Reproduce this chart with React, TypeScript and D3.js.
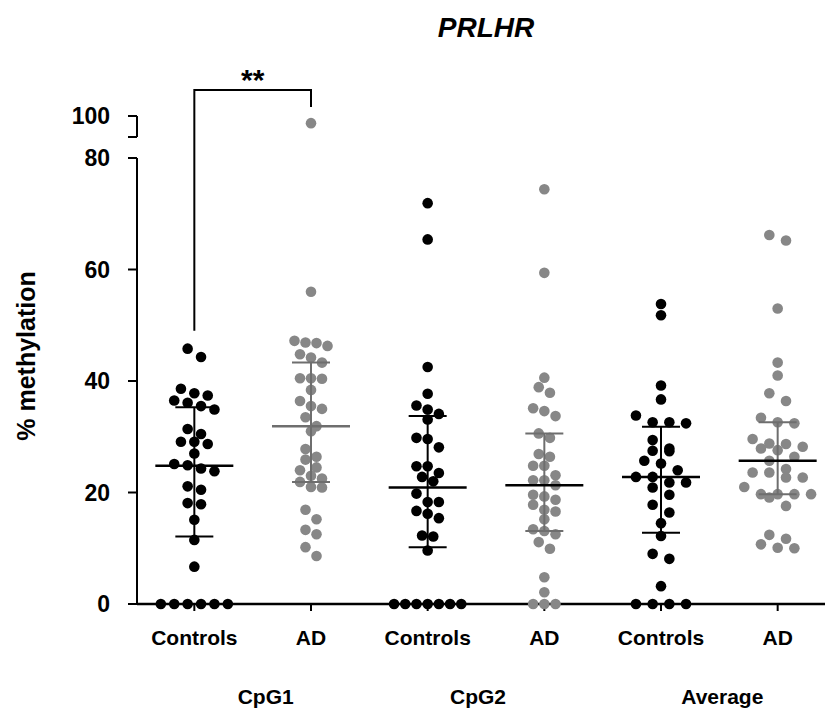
import * as d3 from 'd3';

// values (percent methylation)
const categories = ['Controls', 'AD', 'Controls', 'AD', 'Controls', 'AD'];
const regions = ['CpG1', 'CpG2', 'Average'];

const ctrlCpG1 = [45.8, 44.3, 38.6, 37.8, 37.4, 36.5, 36.1, 35.5, 34.9, 31.4, 30.5, 29.1, 29.1, 28.7, 27.0, 25.1, 24.9, 24.3, 23.8, 21.1, 20.5, 18.1, 17.9, 15.1, 11.5, 6.7, 0, 0, 0, 0, 0, 0];
const adCpG1 = [98.3, 56.0, 47.2, 46.9, 46.8, 46.3, 44.8, 44.2, 43.3, 40.5, 40.5, 40.4, 38.4, 36.4, 35.5, 35.0, 33.5, 31.9, 31.0, 27.8, 26.4, 25.9, 24.5, 24.0, 23.0, 22.5, 21.9, 21.0, 20.9, 16.9, 15.2, 13.3, 12.5, 10.2, 8.6];
const ctrlCpG2 = [71.9, 65.4, 42.5, 37.7, 35.6, 34.9, 34.1, 33.1, 29.8, 29.6, 28.1, 24.7, 24.7, 23.5, 22.8, 22.0, 19.8, 18.3, 18.3, 16.7, 16.2, 15.4, 12.3, 12.1, 9.6, 0, 0, 0, 0, 0, 0, 0];
const adCpG2 = [74.4, 59.4, 40.6, 38.9, 37.9, 35.1, 34.6, 33.7, 30.6, 29.8, 26.9, 26.4, 24.8, 24.8, 23.1, 22.2, 22.2, 21.3, 19.6, 19.3, 18.7, 17.8, 16.9, 16.6, 15.2, 13.4, 13.1, 12.5, 11.1, 9.9, 4.8, 2.1, 0, 0, 0];
const ctrlAvg = [53.8, 51.8, 39.2, 36.7, 33.8, 32.6, 32.6, 32.4, 29.4, 27.9, 27.5, 27.4, 25.7, 25.2, 24.0, 22.8, 22.8, 21.8, 21.8, 20.9, 19.6, 17.8, 16.4, 14.5, 12.2, 9.0, 8.1, 3.2, 0, 0, 0, 0];
const adAvg = [66.2, 65.2, 53.0, 43.3, 41.0, 37.8, 36.4, 33.4, 32.6, 32.4, 29.6, 28.8, 28.7, 28.2, 27.9, 27.6, 26.4, 25.7, 24.2, 23.6, 23.6, 22.7, 22.7, 21.0, 19.7, 19.7, 19.7, 19.7, 19.1, 17.6, 12.4, 11.7, 10.7, 10.1, 10.0];

const series = [ctrlCpG1, adCpG1, ctrlCpG2, adCpG2, ctrlAvg, adAvg];
const means = [24.8, 31.9, 20.9, 21.3, 22.8, 25.7];
const sdLow = [12.1, 21.9, 10.2, 13.1, 12.8, 19.7];
const sdHigh = [35.3, 43.3, 33.7, 30.6, 31.8, 32.6];

const yTicks = [0, 20, 40, 60, 80];

// layout
const W = 825;
const H = 708;
const axisX = 137;
const baseY = 604;
const swarmStep = [13.4, 11, 11.2, 11.2, 16.7, 16.7];
const regionNudge = [13, -8, 3];
const font = '"Liberation Sans", Arial, sans-serif';
const grey = '#878787';
const greyLine = '#6e6e6e';

const x = d3.scalePoint<number>().domain(d3.range(6)).range([136, 836]).padding(0.5);
const y = d3.scaleLinear().domain([0, 80]).range([baseY, 158]);
const yTop = d3.scaleLinear().domain([95, 100]).range([137, 116]);
const yPos = (v: number) => (v > 80 ? yTop(v) : y(v));

// simple row-binned dot layout
function swarm(values: number[], step: number) {
  const sorted = values.slice().sort(d3.descending);
  const rows: number[][] = [];
  let cur: number[] = [];
  for (const v of sorted) {
    if (cur.length && cur[0] - v > 1.7) {
      rows.push(cur);
      cur = [];
    }
    cur.push(v);
  }
  rows.push(cur);
  return rows.flatMap((r) => r.map((v, i) => ({ v, dx: (i - (r.length - 1) / 2) * step })));
}

export default function App() {
  return (
    <svg width={W} height={H} style={{ position: 'absolute', left: 0, top: 0, background: '#fff' }} fontFamily={font}>
      <text x={486} y={37} textAnchor="middle" fontSize={28} fontWeight="bold" fontStyle="italic">PRLHR</text>

      {/* y axis, lower segment */}
      <line x1={axisX} x2={axisX} y1={y(0)} y2={y(80)} stroke="#000" strokeWidth={2} />
      {yTicks.map((t) => (
        <g key={t}>
          <line x1={axisX - 9} x2={axisX} y1={y(t)} y2={y(t)} stroke="#000" strokeWidth={2} />
          <text x={110} y={y(t)} dy="0.36em" textAnchor="end" fontSize={23} fontWeight="bold">{t}</text>
        </g>
      ))}
      {/* y axis, upper segment after the break */}
      <line x1={axisX} x2={axisX} y1={yTop(100)} y2={yTop(95)} stroke="#000" strokeWidth={2} />
      {[95, 100].map((t) => (
        <line key={t} x1={axisX - 9} x2={axisX} y1={yTop(t)} y2={yTop(t)} stroke="#000" strokeWidth={2} />
      ))}
      <text x={110} y={yTop(100)} dy="0.36em" textAnchor="end" fontSize={23} fontWeight="bold">100</text>
      <text transform={`translate(35,356) rotate(-90)`} textAnchor="middle" fontSize={25} fontWeight="bold">% methylation</text>

      {/* x axis */}
      <line x1={axisX} x2={W} y1={baseY} y2={baseY} stroke="#000" strokeWidth={2.5} />
      {categories.map((c, i) => (
        <g key={i}>
          <line x1={x(i)} x2={x(i)} y1={baseY} y2={baseY + 7} stroke="#000" strokeWidth={2} />
          <text x={x(i)} y={645} textAnchor="middle" fontSize={21} fontWeight="bold">{c}</text>
        </g>
      ))}
      {regions.map((r, i) => (
        <text key={r} x={((x(2 * i)! + x(2 * i + 1)!) / 2) + regionNudge[i]} y={704} textAnchor="middle" fontSize={21} fontWeight="bold">{r}</text>
      ))}

      {/* dots */}
      {series.map((vals, i) => (
        <g key={i} fill={i % 2 ? grey : '#000'}>
          {swarm(vals, swarmStep[i]).map((p, j) => (
            <circle key={j} cx={x(i)! + p.dx} cy={yPos(p.v)} r={5.3} />
          ))}
        </g>
      ))}

      {/* mean and SD */}
      {series.map((_, i) => {
        const cx = x(i)!;
        const lc = i % 2 ? greyLine : '#000';
        const mc = i === 1 ? greyLine : '#000';
        return (
          <g key={i}>
            <line x1={cx} x2={cx} y1={y(sdLow[i])} y2={y(sdHigh[i])} stroke={lc} strokeWidth={2} />
            <line x1={cx - 19} x2={cx + 19} y1={y(sdLow[i])} y2={y(sdLow[i])} stroke={lc} strokeWidth={2} />
            <line x1={cx - 19} x2={cx + 19} y1={y(sdHigh[i])} y2={y(sdHigh[i])} stroke={lc} strokeWidth={2} />
            <line x1={cx - 39} x2={cx + 39} y1={y(means[i])} y2={y(means[i])} stroke={mc} strokeWidth={2.5} />
          </g>
        );
      })}

      {/* significance bracket */}
      <path d={`M${x(0)},${y(49)}V90H${x(1)}V107`} fill="none" stroke="#000" strokeWidth={2} />
      <text x={(x(0)! + x(1)!) / 2} y={90} textAnchor="middle" fontSize={30} fontWeight="bold">**</text>
    </svg>
  );
}
